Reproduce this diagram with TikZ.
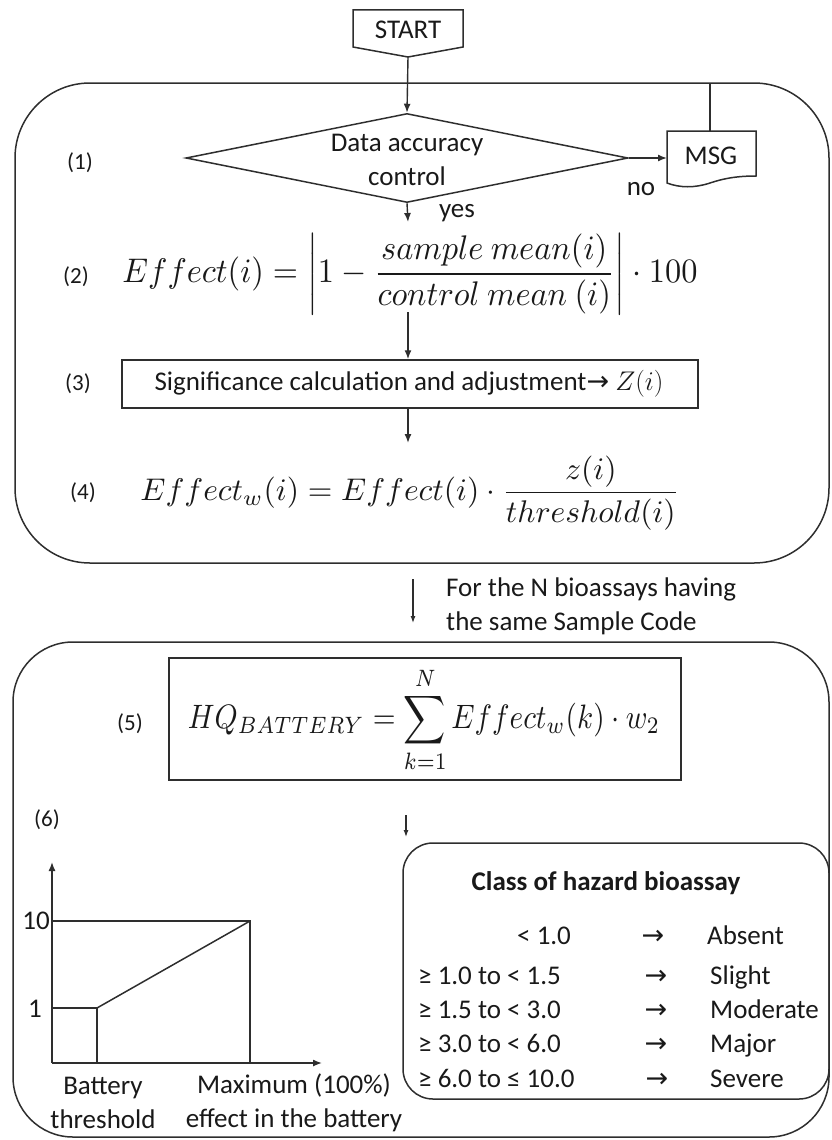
\RequirePackage{fix-cm}
\documentclass[tikz,border=0pt]{standalone}
\usepackage{amsmath}
\usepackage{fontspec}
\setmainfont{Carlito}
\newfontfamily\arrowfont{DejaVu Sans}
\usetikzlibrary{shapes.geometric,arrows.meta}
\tikzset{
  ln/.style={draw=black!82, line width=1.5pt},
  arr/.style={draw=black!82, line width=1.4pt, -{Latex[length=9pt,width=7pt]}},
  sarr/.style={draw=black!82, line width=1.2pt, -{Latex[length=7pt,width=5pt]}},
  txt/.style={font=\fontsize{27}{34}\selectfont, inner sep=0pt, text=black!90},
  lbl/.style={font=\fontsize{23}{28}\selectfont, inner sep=0pt, text=black!90},
  eqn/.style={inner sep=0pt, text=black!90},
  arrg/.style={txt, font=\arrowfont\fontsize{27}{30}\selectfont},
}
\begin{document}
\begin{tikzpicture}[x=1pt,y=-1pt]
\useasboundingbox (0,0) rectangle (831,1140);

% ---------- block 1 ----------
\draw[ln, rounded corners=75pt] (15,83) rectangle (829,563);

% START
\node[txt] (start) at (408,30) {START};
\draw[ln] (353,10) -- (463,10) -- (463,47) -- (408,57) -- (353,47) -- cycle;
\coordinate (starttip) at (408,57);

% decision
\node[diamond, ln, minimum width=442pt, minimum height=89pt, inner sep=0pt] (dia) at (407,158) {};
\node[txt, align=center] (diatext) at (407,160) {Data accuracy\\control};
\draw[arr] (starttip) -- (dia.north);
\node[lbl] (l1) at (80,163) {(1)};

% MSG document
\draw[ln] (667,131) -- (756,131) -- (756,176)
  .. controls (735,176) and (722,179) .. (710,183)
  .. controls (695,188) and (680,188) .. (667,183) -- cycle;
\node[txt] (msg) at (711,156) {MSG};
\coordinate (msgleft) at (667,158);
\coordinate (msgtop) at (710,131);
\coordinate (looptop) at (710,83);
\draw[arr] (dia.east) -- (msgleft);
\draw[ln] (msgtop) -- (looptop);
\node[txt] (no) at (641,189) {no};

% yes
\coordinate (yesend) at (408,222);
\draw[arr] (dia.south) -- (yesend);
\node[txt] (yes) at (457,213) {yes};

% (2)
\node[lbl] (l2) at (76,277) {(2)};
\node[eqn] (eq2) at (410,274) {\resizebox*{575pt}{82pt}{$\displaystyle Effect(i)=\left|1-\frac{sample\ mean(i)}{control\ mean\ (i)}\right|\cdot 100$}};
\coordinate (eq2bot) at (408,312);

% (3)
\node[lbl] (l3) at (78,384) {(3)};
\node[ln, minimum width=576pt, minimum height=48pt, inner sep=0pt] (b3) at (410,384) {};
\node[txt] (b3t) at (409,384) {Significance calculation and adjustment{\arrowfont\fontsize{27}{30}\selectfont →} $Z(i)$};
\draw[arr] (eq2bot) -- (eq2bot |- b3.north);
\coordinate (eq4top) at (408,443);
\draw[arr] (eq4top |- b3.south) -- (eq4top);

% (4)
\node[lbl] (l4) at (83,493) {(4)};
\node[eqn] (eq4) at (410,493) {\resizebox*{539pt}{74pt}{$\displaystyle Effect_w(i)=Effect(i)\cdot\frac{z(i)}{threshold(i)}$}};

% ---------- between ----------
\coordinate (b1bot) at (413,579);
\coordinate (b2top) at (413,623);
\draw[sarr] (b1bot) -- (b2top);
\node[txt, align=left, anchor=west] (forN) at (446,606) {For the N bioassays having\\the same Sample Code};

% ---------- block 2 ----------
\draw[ln, rounded corners=60pt] (13,642) rectangle (829,1137);

% (5)
\node[ln, minimum width=512pt, minimum height=122pt, inner sep=0pt] (b5) at (425,719) {};
\node[lbl] (l5) at (130,724) {(5)};
\node[eqn] (eq5) at (424,720) {\resizebox*{472pt}{106pt}{$\displaystyle HQ_{BATTERY}=\sum_{k=1}^{N}Effect_w(k)\cdot w_2$}};

% arrow to class
\coordinate (c1) at (406,815);
\coordinate (c2) at (406,837);
\draw[sarr] (c1) -- (c2);

% (6) graph
\node[lbl] (l6) at (47,820) {(6)};
\coordinate (o) at (52,1063);
\coordinate (ytop) at (52,862);
\coordinate (xend) at (322,1063);
\coordinate (tenL) at (52,921);
\coordinate (tenR) at (250,921);
\coordinate (maxB) at (250,1063);
\coordinate (oneL) at (52,1008);
\coordinate (oneR) at (97,1008);
\coordinate (thrB) at (97,1063);
\draw[arr] (o) -- (ytop);
\draw[arr] (o) -- (xend);
\draw[ln] (tenL) -- (tenR) -- (maxB);
\draw[ln] (oneL) -- (oneR) -- (thrB);
\draw[ln] (oneR) -- (tenR);
\node[txt, anchor=east] (v10) at (50,921) {10};
\node[txt, anchor=east] (v1) at (42,1009) {1};
\node[txt, align=center] (bt) at (103,1103) {Battery\\threshold};
\node[txt, align=center] (mx) at (294,1103) {Maximum (100\%)\\effect in the battery};

% class box
\draw[ln, rounded corners=30pt] (403,843) rectangle (829,1099);
\node[txt, font=\fontsize{27}{34}\selectfont\bfseries] (ct) at (606,883) {Class of hazard bioassay};
\node[txt, anchor=base west] (r1a) at (517,944) {< 1.0};
\node[txt, anchor=base west] (r2a) at (418,984) {≥ 1.0 to < 1.5};
\node[txt, anchor=base west] (r3a) at (418,1018) {≥ 1.5 to < 3.0};
\node[txt, anchor=base west] (r4a) at (418,1052) {≥ 3.0 to < 6.0};
\node[txt, anchor=base west] (r5a) at (418,1087) {≥ 6.0 to ≤ 10.0};
\foreach \yy/\xx [count=\i] in {944/653,984/656,1018/656,1052/656,1087/657}
  \node[arrg, anchor=base] (arw\i) at (\xx,\yy) {→};
\node[txt, anchor=base west] (r1b) at (707,944) {Absent};
\node[txt, anchor=base west] (r2b) at (710,984) {Slight};
\node[txt, anchor=base west] (r3b) at (710,1018) {Moderate};
\node[txt, anchor=base west] (r4b) at (710,1052) {Major};
\node[txt, anchor=base west] (r5b) at (710,1087) {Severe};
\end{tikzpicture}
\end{document}
